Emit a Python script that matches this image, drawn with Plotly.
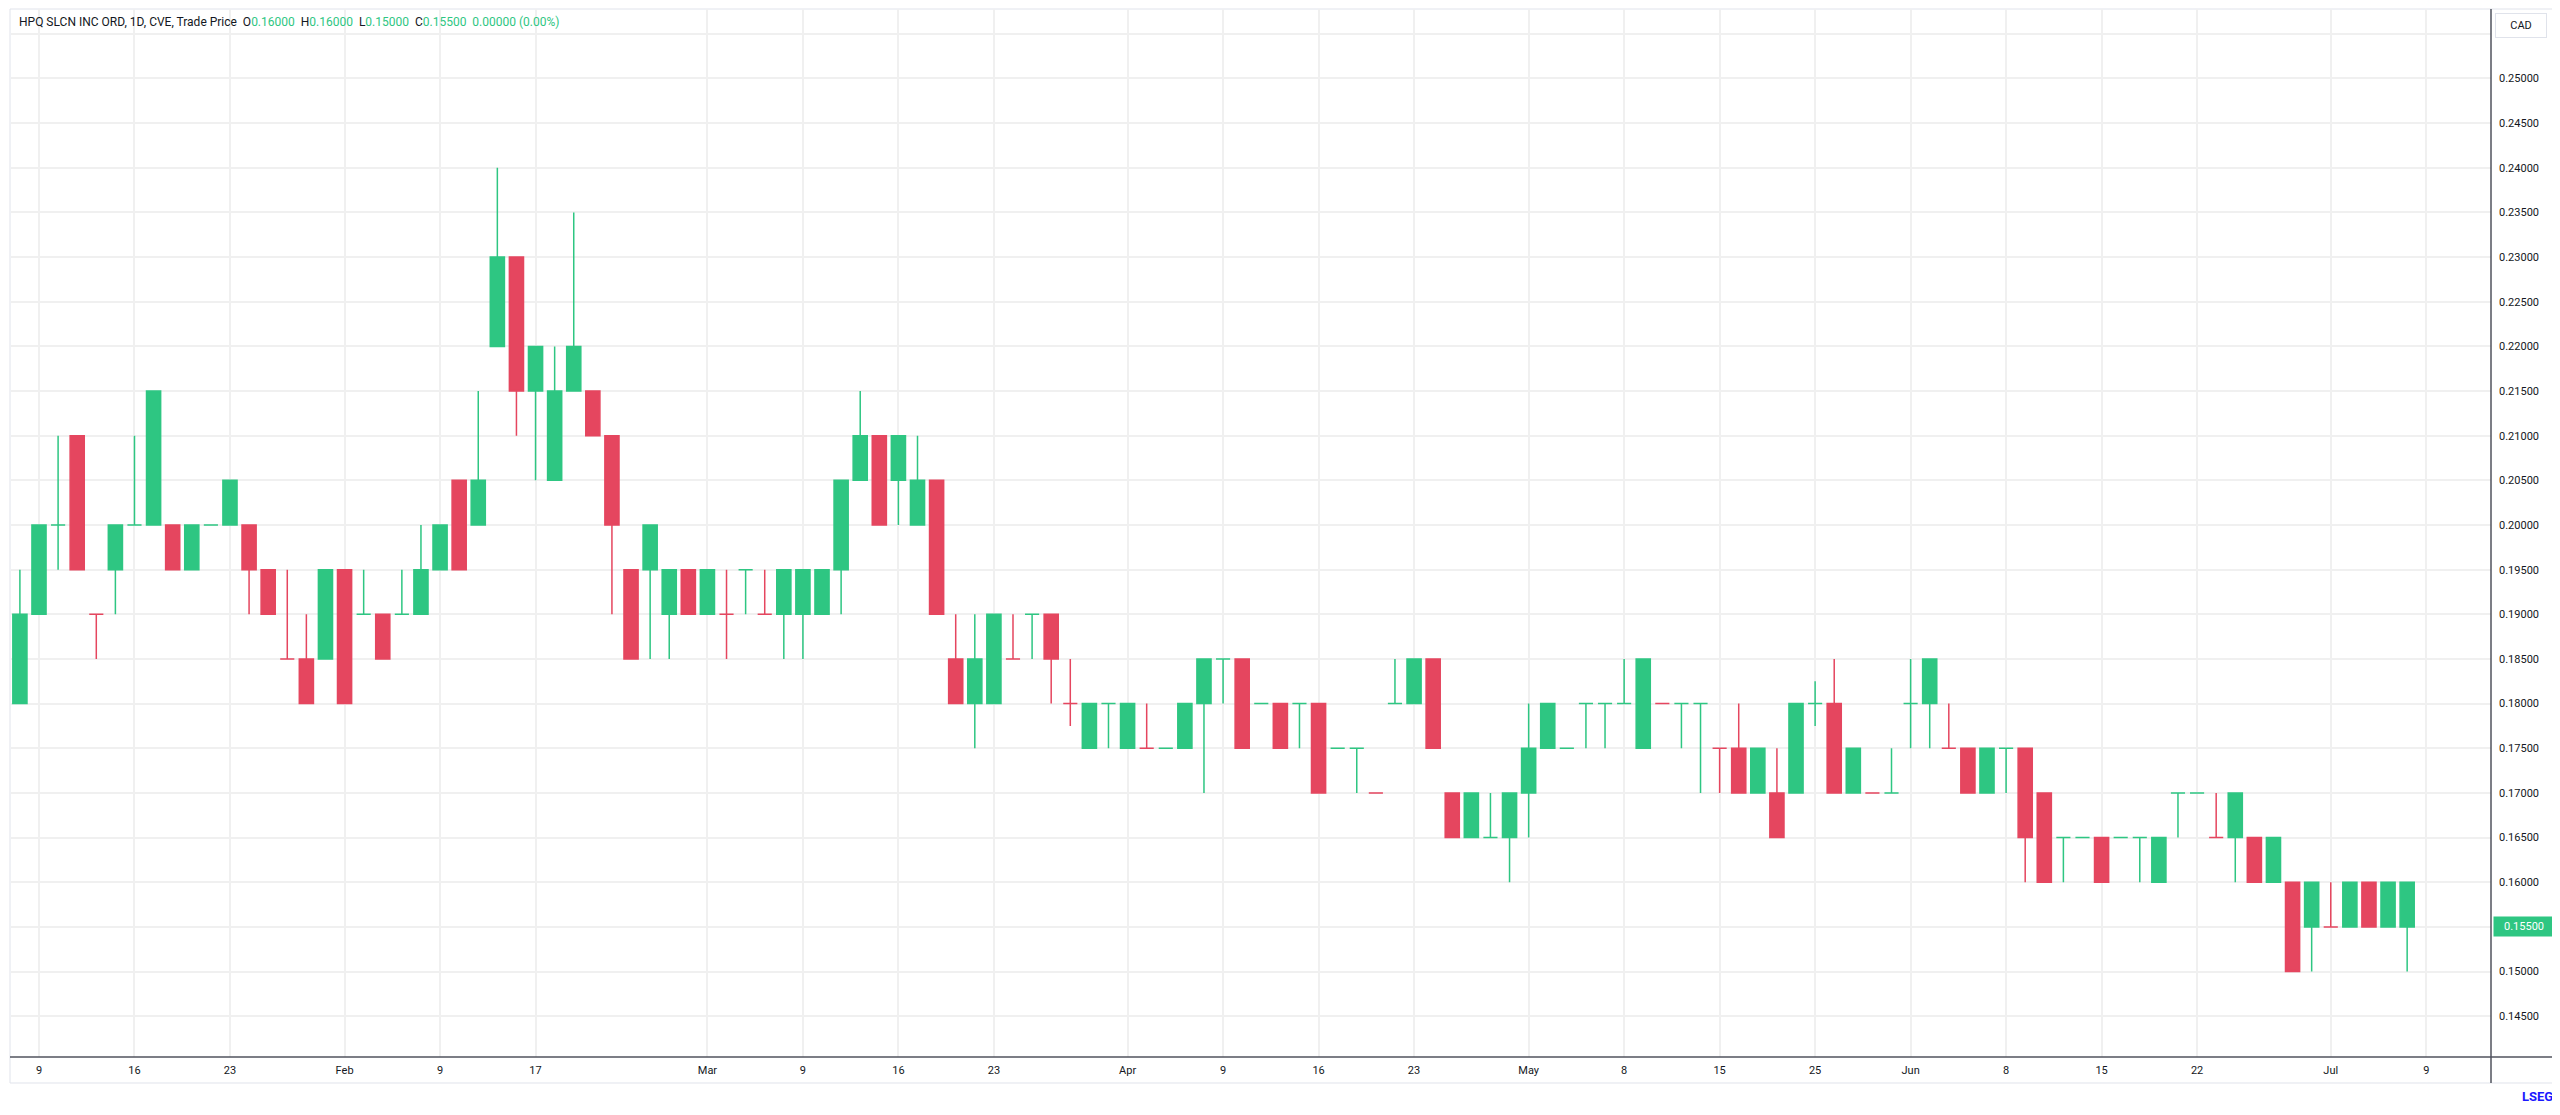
import pandas as pd
import plotly.graph_objects as go

# daily bars, HPQ SLCN INC ORD (CVE), 2026
dates = [
    "2026-01-08", "2026-01-09", "2026-01-12", "2026-01-13", "2026-01-14", "2026-01-15", "2026-01-16",
    "2026-01-19", "2026-01-20", "2026-01-21", "2026-01-22", "2026-01-23", "2026-01-26", "2026-01-27",
    "2026-01-28", "2026-01-29", "2026-01-30",
    "2026-02-02", "2026-02-03", "2026-02-04", "2026-02-05", "2026-02-06", "2026-02-09", "2026-02-10",
    "2026-02-11", "2026-02-12", "2026-02-13", "2026-02-17", "2026-02-18", "2026-02-19", "2026-02-20",
    "2026-02-23", "2026-02-24", "2026-02-25", "2026-02-26", "2026-02-27",
    "2026-03-02", "2026-03-03", "2026-03-04", "2026-03-05", "2026-03-06", "2026-03-09", "2026-03-10",
    "2026-03-11", "2026-03-12", "2026-03-13", "2026-03-16", "2026-03-17", "2026-03-18", "2026-03-19",
    "2026-03-20", "2026-03-23", "2026-03-24", "2026-03-25", "2026-03-26", "2026-03-27", "2026-03-30",
    "2026-03-31",
    "2026-04-01", "2026-04-02", "2026-04-06", "2026-04-07", "2026-04-08", "2026-04-09", "2026-04-10",
    "2026-04-13", "2026-04-14", "2026-04-15", "2026-04-16", "2026-04-17", "2026-04-20", "2026-04-21",
    "2026-04-22", "2026-04-23", "2026-04-24", "2026-04-27", "2026-04-28", "2026-04-29", "2026-04-30",
    "2026-05-01", "2026-05-04", "2026-05-05", "2026-05-06", "2026-05-07", "2026-05-08", "2026-05-11",
    "2026-05-12", "2026-05-13", "2026-05-14", "2026-05-15", "2026-05-19", "2026-05-20", "2026-05-21",
    "2026-05-22", "2026-05-25", "2026-05-26", "2026-05-27", "2026-05-28", "2026-05-29",
    "2026-06-01", "2026-06-02", "2026-06-03", "2026-06-04", "2026-06-05", "2026-06-08", "2026-06-09",
    "2026-06-10", "2026-06-11", "2026-06-12", "2026-06-15", "2026-06-16", "2026-06-17", "2026-06-18",
    "2026-06-19", "2026-06-22", "2026-06-23", "2026-06-24", "2026-06-25", "2026-06-26", "2026-06-29",
    "2026-06-30",
    "2026-07-02", "2026-07-03", "2026-07-06", "2026-07-07", "2026-07-08",
]

opens = [
    .18, .19, .20, .21, .19, .195, .20, .20, .20, .195, .20, .20, .20, .195, .185, .185, .185,
    .195, .19, .19, .19, .19, .195, .205, .20, .22, .23, .22, .205, .215, .215, .21, .195, .20, .19, .195,
    .19, .19, .195, .19, .19, .19, .19, .195, .205, .21, .21, .20, .205, .185, .18, .18, .185, .19, .19,
    .18, .175, .18,
    .175, .175, .175, .175, .18, .185, .185, .18, .18, .18, .18, .175, .175, .17, .18, .18, .185, .17,
    .17, .165, .165,
    .17, .18, .175, .18, .18, .18, .175, .18, .18, .18, .175, .175, .17, .17, .17, .18, .18, .17, .17, .17,
    .18, .18, .175, .175, .17, .175, .175, .17, .165, .165, .165, .165, .165, .16, .17, .17, .165, .165,
    .165, .16, .16, .155,
    .155, .155, .16, .16, .16,
]
highs = [
    .195, .20, .21, .21, .19, .20, .21, .215, .20, .20, .20, .205, .20, .195, .195, .19, .195,
    .195, .195, .19, .195, .20, .20, .205, .215, .24, .23, .22, .22, .235, .215, .21, .195, .20, .195, .195,
    .195, .195, .195, .195, .195, .195, .195, .205, .215, .21, .21, .21, .205, .19, .19, .19, .19, .19, .19,
    .185, .18, .18,
    .18, .18, .175, .18, .185, .185, .185, .18, .18, .18, .18, .175, .175, .17, .185, .185, .185, .17,
    .17, .17, .17,
    .18, .18, .175, .18, .18, .185, .185, .18, .18, .18, .175, .18, .175, .175, .18, .1825, .185, .175,
    .17, .175,
    .185, .185, .18, .175, .175, .175, .175, .17, .165, .165, .165, .165, .165, .165, .17, .17, .17, .17,
    .165, .165, .16, .16,
    .16, .16, .16, .16, .16,
]
lows = [
    .18, .19, .195, .195, .185, .19, .20, .20, .195, .195, .20, .20, .19, .19, .185, .18, .185,
    .18, .19, .185, .19, .19, .195, .195, .20, .22, .21, .205, .205, .215, .21, .19, .185, .185, .185, .19,
    .19, .185, .19, .19, .185, .185, .19, .19, .205, .20, .20, .20, .19, .18, .175, .18, .185, .185, .18,
    .1775, .175, .175,
    .175, .175, .175, .175, .17, .18, .175, .18, .175, .175, .17, .175, .17, .17, .18, .18, .175, .165,
    .165, .165, .16,
    .165, .175, .175, .175, .175, .18, .175, .18, .175, .17, .17, .17, .17, .165, .17, .1775, .17, .17,
    .17, .17,
    .175, .175, .175, .17, .17, .17, .16, .16, .16, .165, .16, .165, .16, .16, .165, .17, .165, .16,
    .16, .16, .15, .15,
    .155, .155, .155, .155, .15,
]
closes = [
    .19, .20, .20, .195, .19, .20, .20, .215, .195, .20, .20, .205, .195, .19, .185, .18, .195,
    .18, .19, .185, .19, .195, .20, .195, .205, .23, .215, .215, .215, .22, .21, .20, .185, .195, .195, .19,
    .195, .19, .195, .19, .195, .195, .195, .205, .21, .20, .205, .205, .19, .18, .185, .19, .185, .19, .185,
    .18, .18, .18,
    .18, .175, .175, .18, .185, .185, .175, .18, .175, .18, .17, .175, .175, .17, .18, .185, .175, .165,
    .165, .165, .17,
    .175, .175, .175, .18, .18, .18, .185, .18, .18, .18, .175, .17, .175, .165, .18, .18, .17, .175,
    .17, .17,
    .18, .185, .175, .17, .175, .175, .165, .16, .165, .165, .16, .165, .165, .165, .17, .17, .165, .17,
    .16, .165, .15, .16,
    .155, .16, .155, .155, .155,
]

holidays = ["2026-02-16", "2026-04-03", "2026-05-18", "2026-07-01"]

tick_dates = ["2026-01-09", "2026-01-16", "2026-01-23", "2026-02-02", "2026-02-09", "2026-02-17",
              "2026-03-02", "2026-03-09", "2026-03-16", "2026-03-23", "2026-04-01", "2026-04-09",
              "2026-04-16", "2026-04-23", "2026-05-01", "2026-05-08", "2026-05-15", "2026-05-25",
              "2026-06-01", "2026-06-08", "2026-06-15", "2026-06-22", "2026-07-02", "2026-07-09"]
tick_text = ["9", "16", "23", "Feb", "9", "17", "Mar", "9", "16", "23", "Apr", "9",
             "16", "23", "May", "8", "15", "25", "Jun", "8", "15", "22", "Jul", "9"]

GREEN = "#2ec682"
RED = "#e5465f"
TXT = "#131722"
GRID = "#f0f0f0"
AXIS = "#50535e"

df = pd.DataFrame(dict(date=pd.to_datetime(dates) + pd.Timedelta(hours=12),
                       open=opens, high=highs, low=lows, close=closes))
# bar colour follows change vs previous close, as on the source chart
df["up"] = df["close"].diff().fillna(0) >= -1e-9

fig = go.Figure()
for is_up, col in [(True, GREEN), (False, RED)]:
    d = df[df["up"] == is_up]
    fig.add_trace(go.Candlestick(
        x=d["date"], open=d["open"], high=d["high"], low=d["low"], close=d["close"],
        increasing=dict(line=dict(color=col, width=1.5), fillcolor=col),
        decreasing=dict(line=dict(color=col, width=1.5), fillcolor=col),
        whiskerwidth=0, showlegend=False))

noon = pd.Timedelta(hours=12)
fig.update_xaxes(
    type="date",
    rangebreaks=[dict(bounds=["sat", "mon"]), dict(values=holidays)],
    range=["2026-01-08 00:49", "2026-07-14 21:22"],
    tickvals=[pd.Timestamp(t) + noon for t in tick_dates],
    ticktext=tick_text,
    showgrid=True, gridcolor=GRID, gridwidth=1.5,
    ticks="", ticklabelstandoff=5,
    tickfont=dict(family="Roboto", size=11, color=TXT),
    showline=False, zeroline=False,
    rangeslider_visible=False,
)
fig.update_yaxes(
    side="right",
    range=[0.14043, 0.25778],
    tick0=0, dtick=0.005, tickformat=".5f",
    showgrid=True, gridcolor=GRID, gridwidth=1.5,
    ticks="", ticklabelstandoff=7,
    tickfont=dict(family="Roboto", size=11, color=TXT),
    showline=False, zeroline=False,
)

header = ("HPQ SLCN INC ORD, 1D, CVE, Trade Price&nbsp;&nbsp;"
          f"O<span style='color:{GREEN}'>0.16000</span>&nbsp;&nbsp;"
          f"H<span style='color:{GREEN}'>0.16000</span>&nbsp;&nbsp;"
          f"L<span style='color:{GREEN}'>0.15000</span>&nbsp;&nbsp;"
          f"C<span style='color:{GREEN}'>0.15500</span>&nbsp;&nbsp;"
          f"<span style='color:{GREEN}'>0.00000 (0.00%)</span>")

fig.update_layout(
    width=2544, height=1099,
    margin=dict(l=3, r=61, t=1, b=50),
    paper_bgcolor="white", plot_bgcolor="white",
    boxgap=0.26, boxgroupgap=0,
    font=dict(family="Roboto", color=TXT),
    annotations=[
        dict(text=header, xref="paper", yref="paper", x=0, y=1, xanchor="left", yanchor="middle",
             xshift=6, yshift=-13, showarrow=False, font=dict(size=12, color=TXT)),
        dict(text="CAD", xref="paper", yref="paper", x=1, y=1, xanchor="left", yanchor="top",
             xshift=4, yshift=-4, showarrow=False, width=40, borderpad=5,
             bgcolor="white", bordercolor="#e0e3eb", borderwidth=1,
             font=dict(size=11, color=TXT)),
        dict(text="0.15500", xref="paper", yref="y", x=1, y=closes[-1], xanchor="left", yanchor="middle",
             xshift=2, showarrow=False, width=54, borderpad=3, bgcolor=GREEN,
             font=dict(size=11, color="white")),
        dict(text="<b>LSEG</b>", xref="paper", yref="paper", x=1, y=0, xanchor="center", yanchor="bottom",
             xshift=46, yshift=-49, showarrow=False, font=dict(family="Roboto", size=13, color="#1a1aff")),
    ],
    shapes=[
        # outer frame of chart pane + scales
        dict(type="rect", xref="paper", yref="paper", x0=-0.0004, x1=1.0266, y0=-0.0248, y1=1.0,
             line=dict(color="#e0e3eb", width=1), layer="below"),
        # time scale line
        dict(type="line", xref="paper", yref="paper", x0=-0.0004, x1=1.0266, y0=0, y1=0,
             line=dict(color=AXIS, width=1.5)),
        # price scale line
        dict(type="line", xref="paper", yref="paper", x0=1, x1=1, y0=-0.0248, y1=1.0,
             line=dict(color=AXIS, width=1.5)),
    ],
)

fig.write_html("out.html")
